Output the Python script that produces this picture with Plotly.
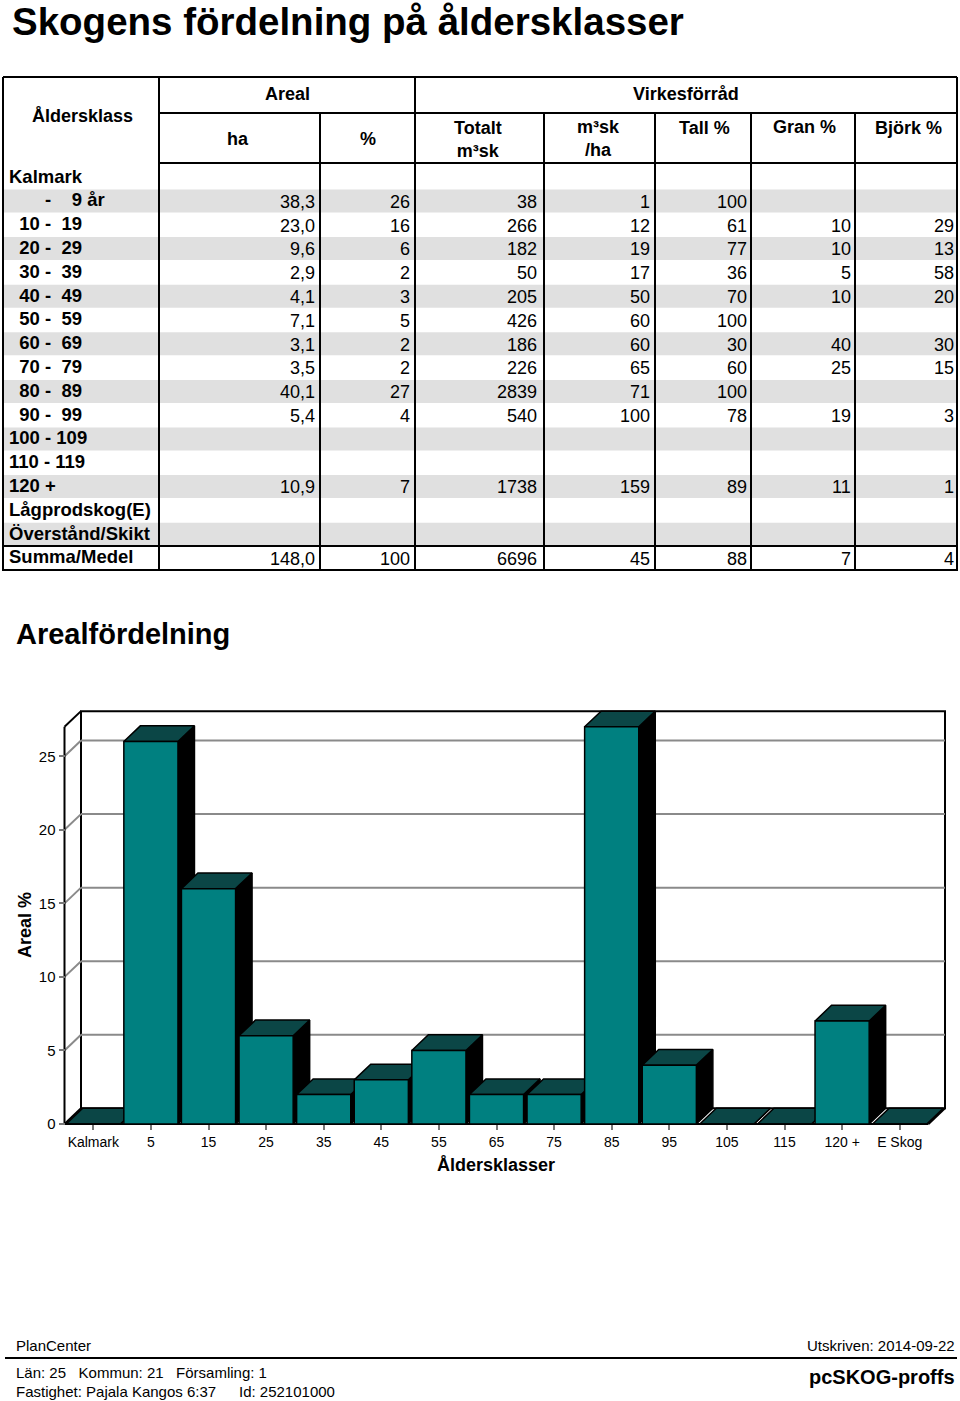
import plotly.graph_objects as go

NB = "\u00a0"

# ---- table data -------------------------------------------------------------
row_labels = [
    "Kalmark",
    NB * 7 + "-" + NB * 4 + "9 år",
    NB * 2 + "10" + NB + "-" + NB * 2 + "19",
    NB * 2 + "20" + NB + "-" + NB * 2 + "29",
    NB * 2 + "30" + NB + "-" + NB * 2 + "39",
    NB * 2 + "40" + NB + "-" + NB * 2 + "49",
    NB * 2 + "50" + NB + "-" + NB * 2 + "59",
    NB * 2 + "60" + NB + "-" + NB * 2 + "69",
    NB * 2 + "70" + NB + "-" + NB * 2 + "79",
    NB * 2 + "80" + NB + "-" + NB * 2 + "89",
    NB * 2 + "90" + NB + "-" + NB * 2 + "99",
    "100" + NB + "-" + NB + "109",
    "110" + NB + "-" + NB + "119",
    "120 +",
    "Lågprodskog(E)",
    "Överstånd/Skikt",
    "Summa/Medel",
]
areal_ha = [None, 38.3, 23.0, 9.6, 2.9, 4.1, 7.1, 3.1, 3.5, 40.1, 5.4, None, None, 10.9, None, None, 148.0]
areal_pct = [None, 26, 16, 6, 2, 3, 5, 2, 2, 27, 4, None, None, 7, None, None, 100]
tot_m3sk = [None, 38, 266, 182, 50, 205, 426, 186, 226, 2839, 540, None, None, 1738, None, None, 6696]
m3sk_ha = [None, 1, 12, 19, 17, 50, 60, 60, 65, 71, 100, None, None, 159, None, None, 45]
tall_pct = [None, 100, 61, 77, 36, 70, 100, 30, 60, 100, 78, None, None, 89, None, None, 88]
gran_pct = [None, None, 10, 10, 5, 10, None, 40, 25, None, 19, None, None, 11, None, None, 7]
bjork_pct = [None, None, 29, 13, 58, 20, None, 30, 15, None, 3, None, None, 1, None, None, 4]

# ---- chart data -------------------------------------------------------------
chart_cats = ["Kalmark", "5", "15", "25", "35", "45", "55", "65", "75", "85", "95",
              "105", "115", "120 +", "E Skog"]
chart_pct = [0, 26, 16, 6, 2, 3, 5, 2, 2, 27, 4, 0, 0, 7, 0]
y_ticks = [0, 5, 10, 15, 20, 25]

W, H = 960, 1401
FONT = "Liberation Sans, Arial, Helvetica, sans-serif"
TEAL = "#008080"
TEAL_DARK = "#0b4646"
GRID = "#8a8a8a"

# chart pixel geometry (front plane) and 3d depth offset
X0, SLOT = 64.5, 57.6
Y0, UNIT = 1124.0, 14.71
DX = 16.5 / SLOT
DY = 15.7 / UNIT
XR = [-0.8, 15.0]
YR = [-1.0, 29.0]


def px_x(v):
    return X0 + SLOT * (v + 0.5)


def px_y(v):
    return Y0 - UNIT * v


fig = go.Figure()

# ---- 3d bars ----------------------------------------------------------------
w = 0.47
for i, v in enumerate(chart_pct):
    l, r = i - w, i + w
    faces = [
        ([r, r + DX, r + DX, r, r], [0, DY, v + DY, v, 0], "#000000"),
        ([l, r, r + DX, l + DX, l], [v, v, v + DY, v + DY, v], TEAL_DARK),
        ([l, r, r, l, l], [0, 0, v, v, 0], TEAL),
    ]
    for xs, ys, col in faces:
        fig.add_trace(go.Scatter(
            x=xs, y=ys, mode="lines", fill="toself", fillcolor=col,
            line=dict(color="#000000", width=1.5),
            hoverinfo="skip", showlegend=False,
        ))

fig.add_trace(go.Scatter(x=[], y=[], xaxis="x2", yaxis="y2", showlegend=False))

shapes = []
annotations = []

# back wall, side wall, floor edges, grid
top = max(chart_pct)
n_cat = len(chart_cats)
shapes.append(dict(type="rect", xref="x", yref="y", x0=-0.5 + DX, x1=n_cat - 0.5 + DX,
                   y0=DY, y1=top + DY, line=dict(color="#000000", width=2),
                   fillcolor="#ffffff", layer="below"))
for t in y_ticks[1:]:
    shapes.append(dict(type="line", xref="x", yref="y", x0=-0.5 + DX, x1=n_cat - 0.5 + DX,
                       y0=t + DY, y1=t + DY, line=dict(color=GRID, width=2), layer="below"))
    shapes.append(dict(type="line", xref="x", yref="y", x0=-0.5, x1=-0.5 + DX,
                       y0=t, y1=t + DY, line=dict(color=GRID, width=2), layer="below"))
for x0, y0, x1, y1 in [
    (-0.5, 0, -0.5, top),
    (-0.5, top, -0.5 + DX, top + DY),
    (-0.5, 0, -0.5 + DX, DY),
    (-0.5, 0, n_cat - 0.5, 0),
    (n_cat - 0.5, 0, n_cat - 0.5 + DX, DY),
]:
    shapes.append(dict(type="line", xref="x", yref="y", x0=x0, y0=y0, x1=x1, y1=y1,
                       line=dict(color="#000000", width=2), layer="below"))

# ---- table (pixel space on x2/y2) -------------------------------------------
COLS = [3, 159, 320, 415, 544, 655, 751, 855, 957]
ROW0, PITCH = 189.5, 23.8
n_rows = len(row_labels)

for i in range(1, n_rows - 1, 2):
    y_top = ROW0 + PITCH * (i - 1)
    shapes.append(dict(type="rect", xref="x2", yref="y2", x0=COLS[0], x1=COLS[-1],
                       y0=y_top, y1=y_top + 23, fillcolor="#e0e0e0", line=dict(width=0),
                       layer="below"))

y_end = ROW0 + PITCH * (n_rows - 2) + 23.5
for k, xc in enumerate(COLS):
    y_start = 77 if k in (0, 1, 3, len(COLS) - 1) else 113
    shapes.append(dict(type="line", xref="x2", yref="y2", x0=xc, x1=xc, y0=y_start, y1=y_end + 1,
                       line=dict(color="#000000", width=2)))
for y, xa in [(77, COLS[0]), (113, COLS[1]), (163, COLS[1]),
              (ROW0 + PITCH * (n_rows - 2) - 0.5, COLS[0]), (y_end, COLS[0])]:
    shapes.append(dict(type="line", xref="x2", yref="y2", x0=xa, x1=COLS[-1], y0=y, y1=y,
                       line=dict(color="#000000", width=2)))


def txt(x, y, text, size=18, bold=False, xanchor="left", angle=0):
    annotations.append(dict(
        xref="x2", yref="y2", x=x, y=y, text=f"<b>{text}</b>" if bold else text,
        showarrow=False, xanchor=xanchor, yanchor="middle", textangle=angle,
        font=dict(family=FONT, size=size, color="#000000"),
    ))


txt(10, 21, "Skogens fördelning på åldersklasser", size=38.5, bold=True)

txt(82, 116, "Åldersklass", bold=True, xanchor="center")
txt(287, 94, "Areal", bold=True, xanchor="center")
txt(686, 94, "Virkesförråd", bold=True, xanchor="center")
txt(238, 139, "ha", bold=True, xanchor="center")
txt(368, 139, "%", bold=True, xanchor="center")
txt(478, 139, "Totalt<br>m³sk", bold=True, xanchor="center")
txt(598, 138, "m³sk<br>/ha", bold=True, xanchor="center")
txt(704, 128, "Tall %", bold=True, xanchor="center")
txt(804, 127, "Gran %", bold=True, xanchor="center")
txt(908, 128, "Björk %", bold=True, xanchor="center")

num_cols = [
    (areal_ha, 317, lambda v: f"{v:.1f}".replace(".", ",")),
    (areal_pct, 412, str),
    (tot_m3sk, 539, str),
    (m3sk_ha, 652, str),
    (tall_pct, 749, str),
    (gran_pct, 853, str),
    (bjork_pct, 956, str),
]
for i, lab in enumerate(row_labels):
    yc = 177 + PITCH * i
    txt(7, yc - 1, lab, size=18.5, bold=True)
    for arr, xr, fmt in num_cols:
        if arr[i] is not None:
            txt(xr, yc + 1, fmt(arr[i]), xanchor="right")

# ---- chart titles ---------------------------------------------------------
txt(14, 634, "Arealfördelning", size=29, bold=True)
txt(496, 1165, "Åldersklasser", bold=True, xanchor="center")
txt(25, 925, "Areal %", bold=True, xanchor="center", angle=-90)

# ---- footer -----------------------------------------------------------------
txt(14, 1345, "PlanCenter", size=15)
txt(957, 1345, "Utskriven: 2014-09-22", size=15, xanchor="right")
shapes.append(dict(type="line", xref="x2", yref="y2", x0=5, x1=957, y0=1358, y1=1358,
                   line=dict(color="#000000", width=2)))
txt(14, 1372, "Län: 25" + NB * 3 + "Kommun: 21" + NB * 3 + "Församling: 1", size=15)
txt(14, 1391, "Fastighet: Pajala Kangos 6:37", size=15)
txt(237, 1391, "Id: 252101000", size=15)
txt(957, 1377, "pcSKOG-proffs", size=20, bold=True, xanchor="right")

fig.update_layout(
    width=W, height=H,
    margin=dict(l=0, r=0, t=0, b=0),
    paper_bgcolor="#ffffff",
    plot_bgcolor="rgba(0,0,0,0)",
    showlegend=False,
    shapes=shapes,
    annotations=annotations,
    xaxis=dict(
        domain=[px_x(XR[0]) / W, px_x(XR[1]) / W], range=XR,
        anchor="free", position=1 - Y0 / H,
        tickvals=list(range(n_cat)), ticktext=chart_cats,
        ticks="outside", ticklen=5, tickcolor="#777777", tickwidth=1.5,
        showline=False, showgrid=False, zeroline=False,
        tickfont=dict(family=FONT, size=14, color="#000000"),
    ),
    yaxis=dict(
        domain=[1 - px_y(YR[0]) / H, 1 - px_y(YR[1]) / H], range=YR,
        anchor="free", position=px_x(-0.5) / W,
        tickvals=y_ticks, ticks="outside", ticklen=6, tickcolor="#777777", tickwidth=1.5,
        showline=False, showgrid=False, zeroline=False,
        tickfont=dict(family=FONT, size=15, color="#000000"),
    ),
    xaxis2=dict(domain=[0, 1], range=[0, W], anchor="y2", visible=False, fixedrange=True),
    yaxis2=dict(domain=[0, 1], range=[H, 0], anchor="x2", visible=False, fixedrange=True),
)

fig.write_html("out.html", config={"displayModeBar": False},
               post_script="document.body.style.margin='0px';")
